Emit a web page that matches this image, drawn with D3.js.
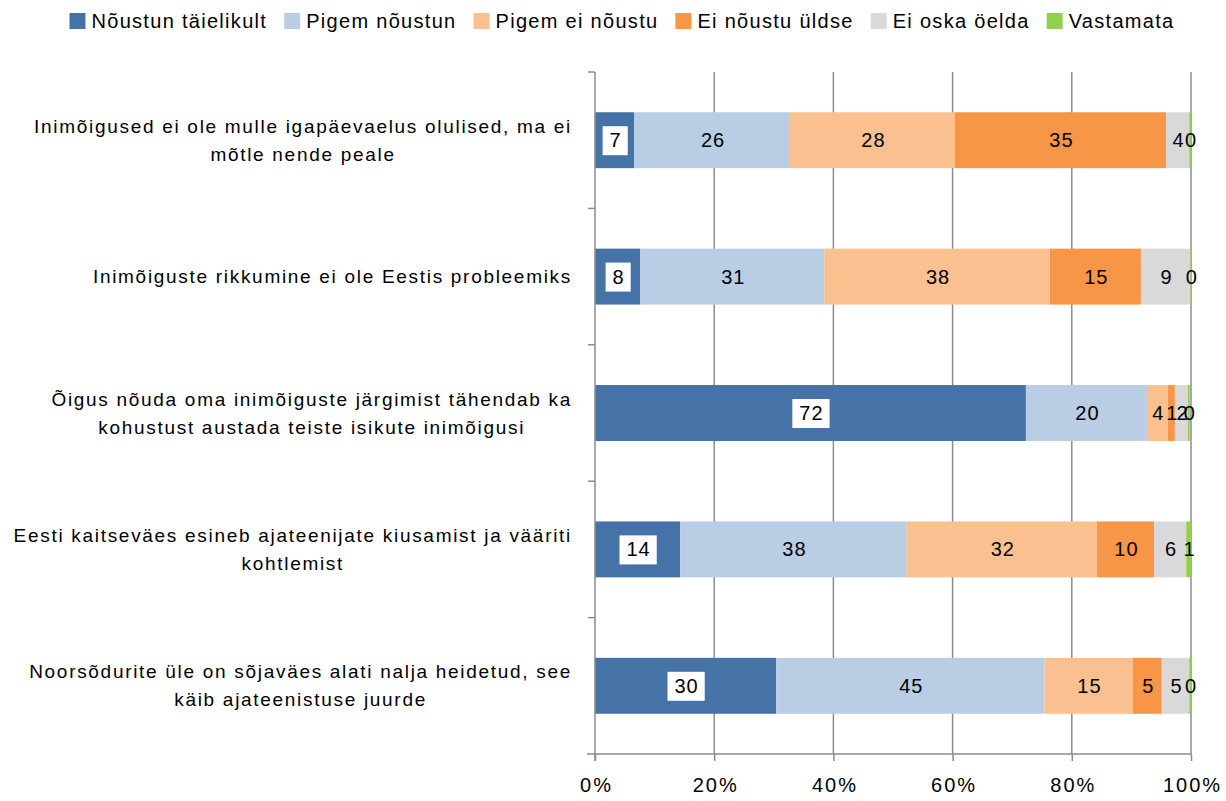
<!DOCTYPE html>
<html>
<head>
<meta charset="utf-8">
<script src="https://cdn.jsdelivr.net/npm/d3@7"></script>
<style>
  body { margin: 0; background: #fff; }
  svg text { font-family: "Liberation Sans", "DejaVu Sans", sans-serif; fill: #000; }
</style>
</head>
<body>
<svg id="chart" width="1226" height="801"></svg>
<script>
(function () {
'use strict';

var categories = [
    ['Inimõigused ei ole mulle igapäevaelus olulised, ma ei', 'mõtle nende peale'],
    ['Inimõiguste rikkumine ei ole Eestis probleemiks'],
    ['Õigus nõuda oma inimõiguste järgimist tähendab ka', 'kohustust austada teiste isikute inimõigusi'],
    ['Eesti kaitseväes esineb ajateenijate kiusamist ja vääriti', 'kohtlemist'],
    ['Noorsõdurite üle on sõjaväes alati nalja heidetud, see', 'käib ajateenistuse juurde']
];

var seriesNames = ['Nõustun täielikult', 'Pigem nõustun', 'Pigem ei nõustu', 'Ei nõustu üldse', 'Ei oska öelda', 'Vastamata'];
var seriesColors = ['#4572a7', '#b9cde5', '#fac090', '#f79646', '#d9d9d9', '#92d050'];

// one array per series, values in % per category (row order above)
var noustunTaielikult = [6.6, 7.6, 72.3, 14.3, 30.4];
var pigemNoustun      = [26.1, 30.9, 20.3, 38.0, 45.0];
var pigemEiNoustu     = [27.7, 37.8, 3.5, 31.9, 14.8];
var eiNoustuUldse     = [35.4, 15.3, 1.2, 9.6, 4.9];
var eiOskaOelda       = [3.9, 8.3, 2.2, 5.4, 4.6];
var vastamata         = [0.3, 0.1, 0.3, 0.8, 0.3];

// labels as printed on the bars
var labelValues = [
    [7, 8, 72, 14, 30],
    [26, 31, 20, 38, 45],
    [28, 38, 4, 32, 15],
    [35, 15, 1, 10, 5],
    [4, 9, 2, 6, 5],
    [0, 0, 0, 1, 0]
];

var xTicks = [0, 20, 40, 60, 80, 100];

var seriesValues = [noustunTaielikult, pigemNoustun, pigemEiNoustu, eiNoustuUldse, eiOskaOelda, vastamata];

var MARGIN_LEFT = 595;
var PLOT_RIGHT = 1191;
var PLOT_TOP = 72;
var PLOT_BOTTOM = 754;
var FONT_SIZE = 19;
var AXIS_COLOR = '#8c8c8c';

var svg = d3.select('#chart');

var x = d3.scaleLinear().domain([0, 100]).range([MARGIN_LEFT, PLOT_RIGHT]);
var y = d3.scaleBand().domain(d3.range(categories.length)).range([PLOT_TOP, PLOT_BOTTOM]).paddingInner(0.59).paddingOuter(0.295);

// stacked data
var rows = categories.map(function (c, i) {
    var row = {};
    seriesValues.forEach(function (s, k) { row[k] = s[i]; });
    return row;
});
var stack = d3.stack().keys(d3.range(seriesNames.length));
var stacked = stack(rows);

// gridlines
svg.append('g')
    .selectAll('line')
    .data(xTicks.slice(1))
    .join('line')
    .attr('x1', function (d) { return x(d); })
    .attr('x2', function (d) { return x(d); })
    .attr('y1', PLOT_TOP)
    .attr('y2', PLOT_BOTTOM)
    .style('stroke', AXIS_COLOR)
    .style('stroke-width', 1.5);

// bars
var layers = svg.append('g')
    .selectAll('g')
    .data(stacked)
    .join('g')
    .attr('fill', function (d, k) { return seriesColors[k]; });

layers.selectAll('rect')
    .data(function (d) { return d; })
    .join('rect')
    .attr('x', function (d) { return x(d[0]); })
    .attr('width', function (d) { return x(d[1]) - x(d[0]); })
    .attr('y', function (d, i) { return y(i); })
    .attr('height', y.bandwidth());

// x axis
var xAxis = d3.axisBottom(x)
    .tickValues(xTicks)
    .tickSize(7)
    .tickFormat(function (d) { return d + '%'; });

var gx = svg.append('g')
    .attr('transform', 'translate(0,' + PLOT_BOTTOM + ')')
    .call(xAxis);
gx.select('.domain').attr('d', 'M' + (MARGIN_LEFT - 8) + ',0H' + PLOT_RIGHT);
gx.selectAll('line, path').style('stroke', AXIS_COLOR).style('stroke-width', 1.5);
gx.selectAll('text')
    .attr('y', 31)
    .attr('dy', '0.35em')
    .attr('dx', '1px')
    .style('font-size', '20px')
    .style('letter-spacing', '2px');

// y axis (vertical line with category boundary ticks)
var bounds = d3.range(categories.length + 1).map(function (i) {
    return PLOT_TOP + i * y.step();
});
var gy = svg.append('g');
gy.append('line')
    .attr('x1', MARGIN_LEFT).attr('x2', MARGIN_LEFT)
    .attr('y1', PLOT_TOP).attr('y2', PLOT_BOTTOM + 7)
    .style('stroke', AXIS_COLOR).style('stroke-width', 1.5);
gy.selectAll('line.tick')
    .data(bounds.slice(0, -1))
    .join('line')
    .attr('class', 'tick')
    .attr('x1', MARGIN_LEFT - 7).attr('x2', MARGIN_LEFT)
    .attr('y1', function (d) { return d; }).attr('y2', function (d) { return d; })
    .style('stroke', AXIS_COLOR).style('stroke-width', 1.5);

// category labels
var LINE_H = 28;
var LABEL_RIGHT = 572;
categories.forEach(function (lines, i) {
    var cy = y(i) + y.bandwidth() / 2;
    var g = svg.append('g')
        .style('font-size', FONT_SIZE + 'px')
        .style('letter-spacing', '1.7px');
    var first = g.append('text')
        .attr('x', LABEL_RIGHT)
        .attr('y', cy - (lines.length - 1) * LINE_H / 2)
        .attr('dy', '0.35em')
        .attr('text-anchor', 'end')
        .text(lines[0]);
    if (lines.length > 1) {
        var w = first.node().getComputedTextLength();
        g.append('text')
            .attr('x', LABEL_RIGHT - w / 2)
            .attr('y', cy + LINE_H / 2)
            .attr('dy', '0.35em')
            .attr('text-anchor', 'middle')
            .text(lines[1]);
    }
});

// data labels
stacked.forEach(function (layer, k) {
    layer.forEach(function (d, i) {
        var cx = (x(d[0]) + x(d[1])) / 2 + 1;
        var cy = y(i) + y.bandwidth() / 2;
        var g = svg.append('g');
        var t = g.append('text')
            .attr('x', cx)
            .attr('y', cy)
            .attr('dy', '0.35em')
            .attr('text-anchor', 'middle')
            .style('font-size', '20px')
            .style('letter-spacing', '1px')
            .text(labelValues[k][i]);
        if (k === 0) {
            var bb = t.node().getBBox();
            g.insert('rect', 'text')
                .attr('x', bb.x - 7)
                .attr('y', cy - 14)
                .attr('width', bb.width + 13)
                .attr('height', 29)
                .attr('fill', '#fff');
        }
    });
});

// legend
var legend = svg.append('g');
var lx = 0;
seriesNames.forEach(function (name, k) {
    var item = legend.append('g').attr('transform', 'translate(' + lx + ',0)');
    item.append('rect')
        .attr('x', 0).attr('y', 13)
        .attr('width', 16).attr('height', 16)
        .attr('fill', seriesColors[k]);
    var t = item.append('text')
        .attr('x', 22).attr('y', 21)
        .attr('dy', '0.35em')
        .style('font-size', '20px')
        .style('letter-spacing', '1.3px')
        .text(name);
    lx += 22 + t.node().getComputedTextLength() + 17;
});
var legendW = lx - 17;
legend.attr('transform', 'translate(' + (622 - legendW / 2) + ',0)');

})();
</script>
</body>
</html>
